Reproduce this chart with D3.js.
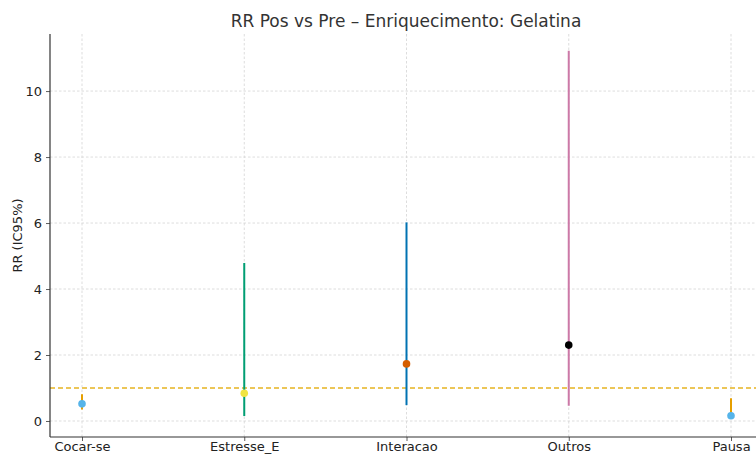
<!DOCTYPE html>
<html><head><meta charset="utf-8">
<script src="https://cdn.jsdelivr.net/npm/d3@7"></script>
<style>body{margin:0;background:#fff}svg{display:block;font-family:"DejaVu Sans",sans-serif}</style>
</head><body><svg id="c" width="756" height="454"></svg>
<script>
const categories = ["Cocar-se","Estresse_E","Interacao","Outros","Pausa"];
const rr = [0.52, 0.84, 1.73, 2.30, 0.16];
const lower = [0.35, 0.15, 0.48, 0.46, 0.14];
const upper = [0.81, 4.79, 6.02, 11.22, 0.69];
const yTicks = [0, 2, 4, 6, 8, 10];
const lineColors = ["#E69F00","#009E73","#0072B2","#CC79A7","#E69F00"];
const dotColors = ["#56B4E9","#F0E442","#D55E00","#000000","#56B4E9"];
const refValue = 1;

const svg = d3.select("#c");
const L = 50, R = 763, T = 34, B = 437;
const x = d3.scalePoint().domain(categories).range([82, 731]);
const y = d3.scaleLinear().domain([-0.485, 11.73]).range([B, T]);

// grid
const g = svg.append("g");
g.selectAll(".gy").data(yTicks).join("line")
  .attr("x1", L).attr("x2", R).attr("y1", d => y(d)).attr("y2", d => y(d))
  .attr("stroke", "#d4d4d4").attr("stroke-width", 0.8).attr("stroke-dasharray", "2.5,2");
g.selectAll(".gx").data(categories).join("line")
  .attr("x1", d => x(d)).attr("x2", d => x(d)).attr("y1", T).attr("y2", B)
  .attr("stroke", "#d4d4d4").attr("stroke-width", 0.8).attr("stroke-dasharray", "2.5,2");

// ref line
svg.append("line").attr("x1", L).attr("x2", R).attr("y1", y(refValue)).attr("y2", y(refValue))
  .attr("stroke", "#E6B422").attr("stroke-width", 1.3).attr("stroke-dasharray", "5,3");

// error bars
const data = categories.map((c, i) => ({c, v: rr[i], lo: lower[i], hi: upper[i], lc: lineColors[i], dc: dotColors[i]}));
svg.selectAll(".eb").data(data).join("line")
  .attr("x1", d => x(d.c)).attr("x2", d => x(d.c)).attr("y1", d => y(d.lo)).attr("y2", d => y(d.hi))
  .attr("stroke", d => d.lc).attr("stroke-width", 2);
svg.selectAll(".dot").data(data).join("circle")
  .attr("cx", d => x(d.c)).attr("cy", d => y(d.v)).attr("r", 3.8).attr("fill", d => d.dc);

// axes
const ya = svg.append("g").attr("transform", `translate(${L},0)`)
  .call(d3.axisLeft(y).tickValues(yTicks).tickSize(4).tickPadding(4).tickFormat(d3.format("d")));
const xa = svg.append("g").attr("transform", `translate(0,${B})`)
  .call(d3.axisBottom(x).tickSize(4).tickPadding(1));
[ya, xa].forEach(a => {
  a.select(".domain").remove();
  a.selectAll("line").attr("stroke", "#333").attr("stroke-width", 0.8);
  a.selectAll("text").attr("fill", "#222").style("font-size", "13px").style("font-family", "DejaVu Sans");
});
svg.append("line").attr("x1", L).attr("x2", L).attr("y1", T).attr("y2", B).attr("stroke", "#333").attr("stroke-width", 1.2);
svg.append("line").attr("x1", L).attr("x2", R).attr("y1", B).attr("y2", B).attr("stroke", "#333").attr("stroke-width", 1.2);

svg.append("text").attr("x", 406).attr("y", 27).attr("text-anchor", "middle")
  .attr("fill", "#333").style("font-size", "17px").text("RR Pos vs Pre – Enriquecimento: Gelatina");
svg.append("text").attr("transform", `translate(22,${(T+B)/2}) rotate(-90)`).attr("text-anchor", "middle")
  .attr("fill", "#222").style("font-size", "13px").text("RR (IC95%)");
</script></body></html>
